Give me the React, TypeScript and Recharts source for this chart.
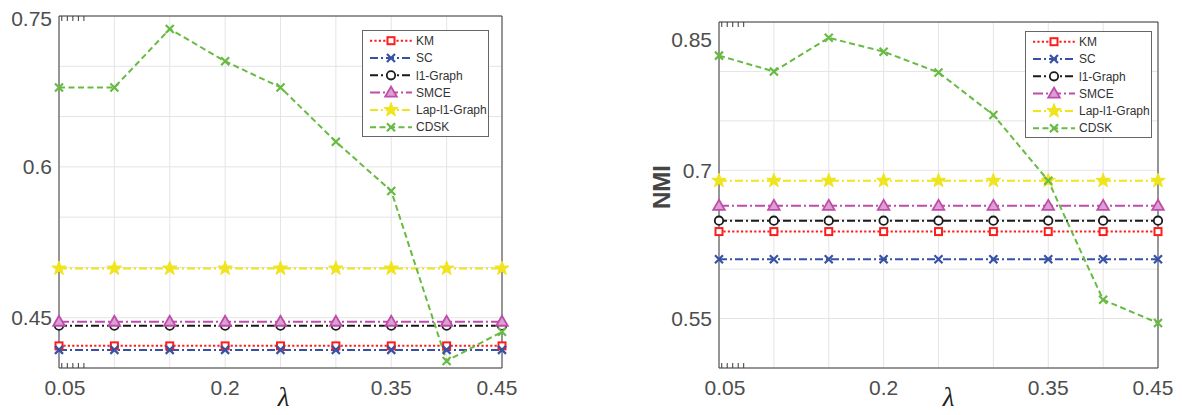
import React from "react";
import { CartesianGrid, Legend, Line, LineChart, XAxis, YAxis } from "recharts";

// lambda values on the x axis
const LAMBDA = [0.05, 0.1, 0.15, 0.2, 0.25, 0.3, 0.35, 0.4, 0.45];
const X_LABELS = [0.05, 0.2, 0.35, 0.45];

// left panel (accuracy)
const ACC_KM = [0.422, 0.422, 0.422, 0.422, 0.422, 0.422, 0.422, 0.422, 0.422];
const ACC_SC = [0.418, 0.418, 0.418, 0.418, 0.418, 0.418, 0.418, 0.418, 0.418];
const ACC_L1 = [0.442, 0.442, 0.442, 0.442, 0.442, 0.442, 0.442, 0.442, 0.442];
const ACC_SMCE = [0.446, 0.446, 0.446, 0.446, 0.446, 0.446, 0.446, 0.446, 0.446];
const ACC_LAP = [0.499, 0.499, 0.499, 0.499, 0.499, 0.499, 0.499, 0.499, 0.499];
const ACC_CDSK = [0.679, 0.679, 0.737, 0.705, 0.679, 0.625, 0.576, 0.407, 0.436];
const ACC_TICKS = [0.4, 0.45, 0.5, 0.55, 0.6, 0.65, 0.7, 0.75];
const ACC_LABELS = [0.45, 0.6, 0.75];

// right panel (NMI)
const NMI_KM = [0.638, 0.638, 0.638, 0.638, 0.638, 0.638, 0.638, 0.638, 0.638];
const NMI_SC = [0.61, 0.61, 0.61, 0.61, 0.61, 0.61, 0.61, 0.61, 0.61];
const NMI_L1 = [0.649, 0.649, 0.649, 0.649, 0.649, 0.649, 0.649, 0.649, 0.649];
const NMI_SMCE = [0.664, 0.664, 0.664, 0.664, 0.664, 0.664, 0.664, 0.664, 0.664];
const NMI_LAP = [0.6895, 0.6895, 0.6895, 0.6895, 0.6895, 0.6895, 0.6895, 0.6895, 0.6895];
const NMI_CDSK = [0.816, 0.8, 0.834, 0.82, 0.799, 0.756, 0.6895, 0.569, 0.5455];
const NMI_TICKS = [0.5, 0.55, 0.6, 0.65, 0.7, 0.75, 0.8, 0.85];
const NMI_LABELS = [0.55, 0.7, 0.85];

const SERIES = [
  { key: "km", name: "KM", color: "#ff1c1c", dash: "2.2 2.2", shape: "square" },
  { key: "sc", name: "SC", color: "#3552a6", dash: "8 3 2 3", shape: "x" },
  { key: "l1", name: "l1-Graph", color: "#1a1a1a", dash: "8 3 2 3", shape: "circle" },
  { key: "smce", name: "SMCE", color: "#bf4cab", dash: "10 3 2 3", shape: "triangle" },
  { key: "lap", name: "Lap-l1-Graph", color: "#f0e41c", dash: "8 3 2 3", shape: "star" },
  { key: "cdsk", name: "CDSK", color: "#68bb42", dash: "6 3.5", shape: "x" },
];

const FONT = '"Liberation Sans", Arial, sans-serif';
const TEXT = "#4d4d4d";
const AXIS = "#3a3a3a";
const CHART_H = 415;

const build = (cols: Record<string, number[]>) =>
  LAMBDA.map((x, i) => {
    const row: Record<string, number> = { x };
    Object.keys(cols).forEach((k) => (row[k] = cols[k][i]));
    return row;
  });

const ACC_DATA = build({ km: ACC_KM, sc: ACC_SC, l1: ACC_L1, smce: ACC_SMCE, lap: ACC_LAP, cdsk: ACC_CDSK });
const NMI_DATA = build({ km: NMI_KM, sc: NMI_SC, l1: NMI_L1, smce: NMI_SMCE, lap: NMI_LAP, cdsk: NMI_CDSK });

function Marker({ shape, color, x, y }: { shape: string; color: string; x: number; y: number }) {
  if (shape === "square")
    return <rect x={x - 3.5} y={y - 3.5} width={7} height={7} fill="#fff" stroke={color} strokeWidth={2} />;
  if (shape === "x")
    return (
      <path
        d={`M${x - 4},${y - 4}L${x + 4},${y + 4}M${x - 4},${y + 4}L${x + 4},${y - 4}`}
        stroke={color}
        strokeWidth={2.2}
        fill="none"
      />
    );
  if (shape === "circle") return <circle cx={x} cy={y} r={4.2} fill="#fff" stroke={color} strokeWidth={1.8} />;
  if (shape === "triangle")
    return (
      <polygon
        points={`${x},${y - 6} ${x - 5.8},${y + 4} ${x + 5.8},${y + 4}`}
        fill="#dc9fd2"
        stroke={color}
        strokeWidth={1.8}
      />
    );
  // star
  const pts: string[] = [];
  for (let i = 0; i < 10; i++) {
    const r = i % 2 === 0 ? 7.5 : 3;
    const a = -Math.PI / 2 + (i * Math.PI) / 5;
    pts.push(`${x + r * Math.cos(a)},${y + r * Math.sin(a)}`);
  }
  return <polygon points={pts.join(" ")} fill={color} stroke={color} strokeWidth={1} />;
}

function LegendBox() {
  const rowH = 17.3;
  return (
    <svg width={127} height={107} style={{ display: "block" }}>
      <rect x={0.5} y={0.5} width={126} height={106} fill="#fff" stroke="#666" strokeWidth={1} />
      {SERIES.map((s, i) => {
        const cy = 10.7 + i * rowH;
        return (
          <g key={s.key}>
            <line x1={8} x2={50} y1={cy} y2={cy} stroke={s.color} strokeWidth={2} strokeDasharray={s.dash} />
            <Marker shape={s.shape} color={s.color} x={29} y={cy} />
            <text x={54} y={cy} dy="0.35em" fontSize={12} fontFamily={FONT} fill="#333">
              {s.name}
            </text>
          </g>
        );
      })}
    </svg>
  );
}

type PanelProps = {
  data: Record<string, number>[];
  width: number;
  top: number;
  right: number;
  yAxisWidth: number;
  yTicks: number[];
  yLabels: number[];
  legendLeft: number;
  legendTop: number;
  yTitle?: string;
  lambdaDx: number;
  topLabelShift: number;
};

function Panel(p: PanelProps) {
  const yMax = p.yTicks[p.yTicks.length - 1];
  const XTick = (props: any) => {
    const v = props.payload.value;
    if (!X_LABELS.includes(v)) return <g />;
    const dx = v === 0.05 ? 6 : v === 0.45 ? -5 : 0;
    return (
      <text x={props.x + dx} y={props.y} dy="0.71em" textAnchor="middle" fontSize={21} fontFamily={FONT} fill={TEXT}>
        {v}
      </text>
    );
  };
  const YTick = (props: any) => {
    const v = props.payload.value;
    if (!p.yLabels.includes(v)) return <g />;
    const dy = v === yMax ? p.topLabelShift : 0;
    return (
      <text x={props.x} y={props.y + dy} dy="0.355em" textAnchor="end" fontSize={21} fontFamily={FONT} fill={TEXT}>
        {v}
      </text>
    );
  };
  const domainY: [number, number] = [p.yTicks[0], yMax];
  return (
    <LineChart width={p.width} height={CHART_H} data={p.data} margin={{ top: p.top, right: p.right, bottom: 0, left: 0 }}>
      <CartesianGrid stroke="#e4e4e4" strokeWidth={1} />
      <XAxis
        dataKey="x"
        type="number"
        domain={[0.05, 0.45]}
        ticks={LAMBDA}
        height={47}
        tick={<XTick />}
        tickLine={false}
        tickSize={0}
        tickMargin={12}
        axisLine={{ stroke: AXIS }}
        label={{
          content: (lp: any) => {
            const vb = lp.viewBox;
            return (
              <text
                x={vb.x + vb.width / 2 + p.lambdaDx}
                y={CHART_H - 9}
                textAnchor="middle"
                fontSize={27}
                fontStyle="italic"
                fontFamily='"Liberation Serif", "DejaVu Serif", serif'
                fill="#222"
              >
                λ
              </text>
            );
          },
        }}
      />
      <XAxis
        xAxisId="bm"
        orientation="bottom"
        mirror
        type="number"
        domain={[0.05, 0.45]}
        ticks={LAMBDA}
        tickFormatter={() => ""}
        tickSize={5}
        axisLine={false}
        tickLine={{ stroke: AXIS }}
      />
      <XAxis
        xAxisId="top"
        orientation="top"
        mirror
        type="number"
        domain={[0.05, 0.45]}
        ticks={LAMBDA}
        tickFormatter={() => ""}
        tickSize={5}
        axisLine={{ stroke: AXIS }}
        tickLine={{ stroke: AXIS }}
      />
      <YAxis
        type="number"
        domain={domainY}
        ticks={p.yTicks}
        width={p.yAxisWidth}
        tick={<YTick />}
        tickLine={false}
        tickSize={0}
        tickMargin={7}
        axisLine={{ stroke: AXIS }}
        label={
          p.yTitle
            ? {
                content: (lp: any) => {
                  const vb = lp.viewBox;
                  const cx = vb.x + 22;
                  const cy = vb.y + vb.height / 2 - 8;
                  return (
                    <text
                      x={cx}
                      y={cy}
                      transform={`rotate(-90 ${cx} ${cy})`}
                      textAnchor="middle"
                      dy="0.35em"
                      fontSize={24}
                      fontWeight="bold"
                      fontFamily={FONT}
                      fill="#444"
                    >
                      {p.yTitle}
                    </text>
                  );
                },
              }
            : undefined
        }
      />
      <YAxis
        yAxisId="lm"
        orientation="left"
        mirror
        type="number"
        domain={domainY}
        ticks={p.yTicks}
        tickFormatter={() => ""}
        tickSize={5}
        axisLine={false}
        tickLine={{ stroke: AXIS }}
      />
      <YAxis
        yAxisId="right"
        orientation="right"
        mirror
        type="number"
        domain={domainY}
        ticks={p.yTicks}
        tickFormatter={() => ""}
        tickSize={5}
        axisLine={{ stroke: AXIS }}
        tickLine={{ stroke: AXIS }}
      />
      {SERIES.map((s) => (
        <Line
          key={s.key}
          type="linear"
          dataKey={s.key}
          name={s.name}
          stroke={s.color}
          strokeWidth={2}
          strokeDasharray={s.dash}
          isAnimationActive={false}
          activeDot={false}
          dot={(dp: any) => <Marker key={`${s.key}-${dp.index}`} shape={s.shape} color={s.color} x={dp.cx} y={dp.cy} />}
        />
      ))}
      <Legend
        layout="horizontal"
        verticalAlign="middle"
        align="center"
        content={() => <LegendBox />}
        wrapperStyle={{ left: p.legendLeft, top: p.legendTop, width: 127, height: 107 }}
      />
    </LineChart>
  );
}

export default function App() {
  return (
    <div style={{ position: "absolute", left: 0, top: 0, width: 1182, height: 415, background: "#fff" }}>
      <div style={{ position: "absolute", left: 0, top: 0 }}>
        <Panel
          data={ACC_DATA}
          width={520}
          top={16}
          right={18}
          yAxisWidth={59}
          yTicks={ACC_TICKS}
          yLabels={ACC_LABELS}
          legendLeft={362}
          legendTop={30}
          lambdaDx={3}
          topLabelShift={3}
        />
      </div>
      <div style={{ position: "absolute", left: 640, top: 0 }}>
        <Panel
          data={NMI_DATA}
          width={542}
          top={22}
          right={24}
          yAxisWidth={79}
          yTicks={NMI_TICKS}
          yLabels={NMI_LABELS}
          legendLeft={385}
          legendTop={31}
          yTitle="NMI"
          lambdaDx={10}
          topLabelShift={18}
        />
      </div>
    </div>
  );
}
